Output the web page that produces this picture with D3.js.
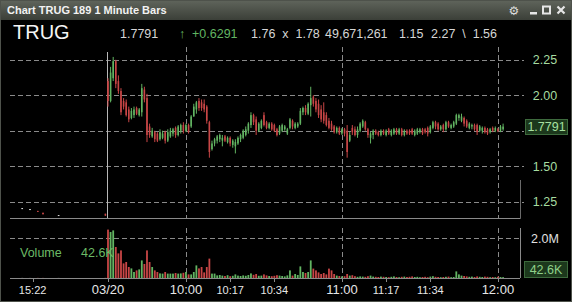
<!DOCTYPE html>
<html><head><meta charset="utf-8">
<script src="https://cdn.jsdelivr.net/npm/d3@7"></script>
<style>
html,body{margin:0;padding:0;background:#000;}
svg{display:block;font-family:"Liberation Sans",Arial,sans-serif;}
</style></head>
<body><svg id="c" width="572" height="302"></svg>
<script>
// ---------- DATA ----------
const symbol = "TRUG";
const title = "Chart TRUG 189 1 Minute Bars";
const headerValues = ["1.7791", "↑", "+0.6291", "1.76  x  1.78", "49,671,261", "1.15", "2.27  \\  1.56"];
const lastPrice = 1.7791;
const lastVolumeLabel = "42.6K";
// bars are indexed by minute from 09:30 on 03/20 (slot 0)
const open = [
2.10,1.96,2.12,2.24,2.10,2.03,1.96,1.95,1.90,1.84,
1.86,1.91,1.86,1.88,2.04,1.98,1.78,1.71,1.74,1.73,
1.69,1.70,1.74,1.68,1.71,1.73,1.77,1.72,1.75,1.79,
1.75,1.79,1.78,1.85,1.90,1.96,1.95,1.94,1.92,1.81,
1.62,1.66,1.68,1.69,1.68,1.71,1.67,1.70,1.65,1.64,
1.66,1.69,1.70,1.72,1.75,1.79,1.86,1.83,1.75,1.77,
1.86,1.81,1.77,1.80,1.79,1.76,1.73,1.75,1.76,1.73,
1.77,1.82,1.77,1.78,1.80,1.88,1.91,1.87,1.93,1.99,
1.96,1.94,1.90,1.88,1.86,1.82,1.80,1.78,1.74,1.77,
1.73,1.76,1.75,1.68,1.77,1.76,1.72,1.75,1.78,1.81,
1.76,1.70,1.72,1.75,1.74,1.72,1.75,1.72,1.76,1.72,
1.73,1.76,1.73,1.76,1.72,1.75,1.75,1.76,1.72,1.73,
1.74,1.76,1.76,1.77,1.74,1.77,1.81,1.80,1.76,1.79,
1.76,1.81,1.77,1.78,1.80,1.84,1.82,1.84,1.82,1.77,
1.78,1.79,1.79,1.75,1.75,1.77,1.76,1.74,1.77,1.75,
1.76,1.75,1.76];
const high = [
2.12,2.20,2.27,2.25,2.14,2.05,1.98,1.97,1.92,1.91,
1.92,1.92,1.91,2.08,2.06,2.01,1.80,1.77,1.75,1.74,
1.76,1.75,1.75,1.76,1.77,1.77,1.78,1.79,1.80,1.81,
1.80,1.80,1.86,1.94,1.96,1.98,1.97,1.97,1.93,1.82,
1.68,1.70,1.72,1.73,1.72,1.72,1.71,1.71,1.69,1.69,
1.71,1.73,1.76,1.78,1.81,1.88,1.87,1.85,1.81,1.83,
1.88,1.82,1.81,1.81,1.80,1.77,1.79,1.80,1.79,1.77,
1.84,1.83,1.81,1.81,1.91,1.92,1.93,1.95,2.06,2.00,
1.98,1.97,1.93,1.95,1.88,1.84,1.82,1.79,1.78,1.78,
1.77,1.77,1.79,1.74,1.79,1.78,1.78,1.81,1.83,1.82,
1.77,1.74,1.76,1.76,1.75,1.76,1.76,1.76,1.77,1.76,
1.77,1.77,1.77,1.77,1.76,1.76,1.76,1.77,1.76,1.77,
1.77,1.77,1.77,1.78,1.79,1.82,1.82,1.81,1.79,1.80,
1.82,1.82,1.80,1.82,1.87,1.87,1.87,1.85,1.83,1.81,
1.80,1.80,1.80,1.79,1.78,1.78,1.77,1.77,1.78,1.78,
1.77,1.79,1.80];
const low = [
1.92,1.95,2.10,2.05,2.01,1.86,1.90,1.85,1.81,1.83,
1.84,1.86,1.85,1.85,1.95,1.67,1.70,1.70,1.67,1.67,
1.68,1.69,1.66,1.67,1.70,1.71,1.70,1.71,1.73,1.73,
1.74,1.73,1.77,1.85,1.87,1.89,1.89,1.88,1.80,1.56,
1.61,1.64,1.66,1.67,1.64,1.67,1.66,1.64,1.63,1.59,
1.65,1.67,1.69,1.71,1.73,1.77,1.79,1.72,1.74,1.76,
1.78,1.76,1.76,1.75,1.74,1.71,1.72,1.74,1.75,1.72,
1.76,1.76,1.76,1.77,1.79,1.86,1.86,1.86,1.85,1.92,
1.88,1.84,1.81,1.80,1.78,1.76,1.75,1.73,1.73,1.72,
1.72,1.71,1.56,1.67,1.72,1.71,1.70,1.74,1.77,1.75,
1.70,1.66,1.69,1.72,1.71,1.71,1.72,1.71,1.72,1.71,
1.72,1.72,1.72,1.71,1.71,1.72,1.72,1.72,1.71,1.72,
1.73,1.72,1.73,1.71,1.73,1.76,1.76,1.75,1.75,1.74,
1.75,1.77,1.76,1.77,1.79,1.82,1.81,1.78,1.77,1.76,
1.76,1.75,1.72,1.74,1.73,1.73,1.72,1.73,1.74,1.74,
1.74,1.74,1.75];
const close = [
1.96,2.16,2.24,2.08,2.03,1.88,1.92,1.86,1.83,1.89,
1.90,1.87,1.90,2.05,1.97,1.72,1.72,1.75,1.69,1.68,
1.74,1.73,1.68,1.74,1.75,1.76,1.72,1.78,1.79,1.75,
1.79,1.74,1.85,1.92,1.95,1.91,1.91,1.90,1.82,1.60,
1.66,1.69,1.71,1.72,1.70,1.68,1.70,1.66,1.68,1.67,
1.70,1.72,1.75,1.76,1.80,1.86,1.81,1.75,1.80,1.82,
1.79,1.77,1.80,1.76,1.75,1.72,1.78,1.79,1.78,1.76,
1.83,1.78,1.80,1.80,1.89,1.91,1.88,1.94,1.98,1.94,
1.90,1.86,1.83,1.82,1.79,1.77,1.76,1.74,1.77,1.73,
1.76,1.73,1.60,1.72,1.74,1.72,1.76,1.80,1.82,1.76,
1.72,1.73,1.75,1.73,1.72,1.75,1.73,1.75,1.73,1.75,
1.76,1.73,1.76,1.72,1.75,1.73,1.73,1.73,1.75,1.76,
1.76,1.73,1.74,1.73,1.78,1.81,1.78,1.76,1.78,1.76,
1.81,1.78,1.79,1.81,1.86,1.86,1.85,1.80,1.78,1.80,
1.79,1.76,1.74,1.78,1.77,1.74,1.73,1.76,1.75,1.77,
1.75,1.78,1.7791];
// volume in thousands
const volume = [
2420,2300,2380,1550,1230,1380,730,800,550,480,
300,380,430,880,700,1380,800,550,380,300,
230,220,300,220,220,220,250,220,230,260,
300,180,180,300,630,480,550,280,550,970,
220,220,130,150,120,100,140,90,110,180,
120,100,130,110,150,230,160,200,110,120,
180,130,100,90,110,140,120,100,80,130,
380,120,200,150,580,300,250,300,880,470,
380,280,200,250,180,470,380,200,120,100,
80,90,200,120,140,90,60,80,70,60,
90,120,70,60,50,70,60,50,40,60,
80,50,40,60,70,50,60,80,50,60,
40,50,60,40,70,90,60,50,40,50,
60,70,40,50,330,180,120,100,80,60,
70,50,80,60,50,70,60,40,50,40,
60,50,42.6];
// previous session (03/19) sparse late-day prints
const prevSlots = [-33, -30, -27, -25, -19, -1];
const prevOpen  = [1.205, 1.198, 1.185, 1.172, 1.156, 1.165];
const prevHigh  = [1.205, 1.198, 1.185, 1.172, 1.156, 1.165];
const prevLow   = [1.205, 1.198, 1.178, 1.160, 1.156, 1.150];
const prevClose = [1.205, 1.198, 1.178, 1.162, 1.156, 1.152];
const prevVolume = [4, 3, 6, 5, 3, 8];
// axis
const priceTicks = [1.25, 1.50, 1.75, 2.00, 2.25];
const volumeTicks = [2000];
const volumeTickLabels = ["2.0M"];
const timeTickSlots = [-29, 0, 30, 47, 64, 90, 107, 124, 150];
const timeTickLabels = ["15:22", "03/20", "10:00", "10:17", "10:34", "11:00", "11:17", "11:34", "12:00"];
const timeTickMajor = [false, true, true, false, false, true, false, false, true];
const hourGridSlots = [30, 90, 150];
const sessionStartSlot = 0;

// ---------- DRAW ----------
const svg = d3.select("#c");
const UP = "#62b462", DOWN = "#c84646", NEUTRAL = "#d8d8d8";
const GRID = "#8a8a8a";

const x = d3.scaleLinear().domain([-37.7, 158.5]).range([10, 520]);
const y = d3.scaleLinear().domain([1.135, 2.34]).range([218, 47]);
const yv = d3.scaleLinear().domain([0, 2000]).range([278, 238]);

svg.append("rect").attr("width", 572).attr("height", 302).attr("fill", "#000");

// title bar
const defs = svg.append("defs");
const g1 = defs.append("linearGradient").attr("id", "tb").attr("x1", 0).attr("y1", 0).attr("x2", 0).attr("y2", 1);
g1.append("stop").attr("offset", "0%").attr("stop-color", "#60655c");
g1.append("stop").attr("offset", "100%").attr("stop-color", "#3b3f38");
svg.append("rect").attr("x", 0).attr("y", 0).attr("width", 572).attr("height", 20).attr("fill", "url(#tb)");
svg.append("line").attr("x1", 0).attr("x2", 572).attr("y1", 0.5).attr("y2", 0.5).attr("stroke", "#7a7f76");
svg.append("text").attr("x", 7).attr("y", 14).attr("fill", "#f2f2f2")
  .attr("font-size", 11).attr("font-weight", "bold").text(title);
// window icons
svg.append("text").attr("x", 514).attr("y", 15).attr("text-anchor", "middle").attr("fill", "#dcdcdc")
  .attr("font-size", 12).attr("font-family", "DejaVu Sans").text("⚙");
svg.append("rect").attr("x", 530).attr("y", 12).attr("width", 7).attr("height", 2.5).attr("fill", "#e6e6e6");
svg.append("rect").attr("x", 543).attr("y", 6.5).attr("width", 7).attr("height", 7).attr("fill", "none")
  .attr("stroke", "#e6e6e6").attr("stroke-width", 2);
svg.append("path").attr("d", "M557.5,6.5 L564.5,13.5 M564.5,6.5 L557.5,13.5").attr("stroke", "#e6e6e6").attr("stroke-width", 2.2);

// header
svg.append("text").attr("x", 13).attr("y", 39).attr("fill", "#f4f4f4").attr("font-size", 20).text(symbol);
const hx = [120, 179, 192, 251, 325, 399, 431];
const hcol = ["#d6d6d6", UP, UP, "#d6d6d6", "#d6d6d6", "#d6d6d6", "#d6d6d6"];
svg.append("g").selectAll("text").data(headerValues).join("text")
  .attr("x", (d, i) => hx[i]).attr("y", 38).attr("fill", (d, i) => hcol[i])
  .attr("font-size", 12.5).attr("xml:space", "preserve").style("white-space", "pre").text(d => d);

// window frame
svg.append("rect").attr("x", 0.5).attr("y", 0.5).attr("width", 571).attr("height", 301)
  .attr("fill", "none").attr("stroke", "#4e524b");

// price grid
const grid = svg.append("g").attr("stroke", GRID).attr("stroke-dasharray", "5,3").attr("stroke-width", 1);
grid.selectAll(".h").data(priceTicks).join("line")
  .attr("x1", 10).attr("x2", 524).attr("y1", d => Math.round(y(d)) + 0.5).attr("y2", d => Math.round(y(d)) + 0.5);
grid.selectAll(".v").data(hourGridSlots).join("line")
  .attr("x1", d => Math.round(x(d)) + 0.5).attr("x2", d => Math.round(x(d)) + 0.5).attr("y1", 47).attr("y2", 218);
// volume grid
grid.selectAll(".hv").data(volumeTicks).join("line")
  .attr("x1", 10).attr("x2", 520).attr("y1", d => Math.round(yv(d)) + 0.5).attr("y2", d => Math.round(yv(d)) + 0.5);
grid.selectAll(".vv").data(hourGridSlots).join("line")
  .attr("x1", d => Math.round(x(d)) + 0.5).attr("x2", d => Math.round(x(d)) + 0.5).attr("y1", 228).attr("y2", 278);

// session separator
svg.append("line").attr("x1", Math.round(x(sessionStartSlot)) - 0.5).attr("x2", Math.round(x(sessionStartSlot)) - 0.5)
  .attr("y1", 52).attr("y2", 218).attr("stroke", "#b8b8b8").attr("stroke-width", 1);

// panel frames
svg.append("line").attr("x1", 10).attr("x2", 520.5).attr("y1", 218.5).attr("y2", 218.5).attr("stroke", "#8a8a8a");
svg.append("line").attr("x1", 520.5).attr("x2", 520.5).attr("y1", 180).attr("y2", 218.5).attr("stroke", "#6a6a6a");
svg.append("line").attr("x1", 520.5).attr("x2", 520.5).attr("y1", 228).attr("y2", 278).attr("stroke", "#8a8a8a");

// bars
const bars = open.map((o, i) => ({slot: i, o, h: high[i], l: low[i], c: close[i], v: volume[i]}));
const prev = prevSlots.map((s, i) => ({slot: s, o: prevOpen[i], h: prevHigh[i], l: prevLow[i], c: prevClose[i], v: prevVolume[i]}));
const all = prev.concat(bars);
const col = d => d.c > d.o ? UP : (d.c < d.o ? DOWN : NEUTRAL);

const pg = svg.append("g");
pg.selectAll("line").data(all).join("line")
  .attr("x1", d => x(d.slot)).attr("x2", d => x(d.slot))
  .attr("y1", d => y(d.h)).attr("y2", d => Math.max(y(d.l), y(d.h) + 1))
  .attr("stroke", col).attr("stroke-width", 1);
pg.selectAll("rect").data(all).join("rect")
  .attr("x", d => x(d.slot) - 0.8).attr("width", 1.6)
  .attr("y", d => y(Math.max(d.o, d.c))).attr("height", d => Math.max(1, Math.abs(y(d.o) - y(d.c))))
  .attr("fill", col);

// volume bars
svg.append("g").selectAll("rect").data(all).join("rect")
  .attr("x", d => x(d.slot) - 0.9).attr("width", 1.8)
  .attr("y", d => yv(d.v)).attr("height", d => yv(0) - yv(d.v))
  .attr("fill", col);

// time axis
svg.append("line").attr("x1", 10).attr("x2", 520).attr("y1", 278.5).attr("y2", 278.5).attr("stroke", "#8a8a8a");
svg.append("g").selectAll("line").data(timeTickSlots).join("line")
  .attr("x1", d => Math.round(x(d)) + 0.5).attr("x2", d => Math.round(x(d)) + 0.5)
  .attr("y1", 278).attr("y2", 282).attr("stroke", "#8a8a8a");
svg.append("g").selectAll("text").data(timeTickSlots).join("text")
  .attr("x", d => x(d)).attr("y", 294).attr("text-anchor", "middle")
  .attr("fill", "#e6e6e6").attr("font-size", (d, i) => timeTickMajor[i] ? 13 : 11)
  .text((d, i) => timeTickLabels[i]);

// price axis labels (the last-price box hides any tick label it covers)
svg.append("g").selectAll("text").data(priceTicks.filter(d => Math.abs(y(d) - y(lastPrice)) > 12)).join("text")
  .attr("x", 545).attr("y", d => y(d) + 4.5).attr("text-anchor", "middle")
  .attr("fill", "#a6dca0").attr("font-size", 12.5).text(d => d.toFixed(2));
svg.append("rect").attr("x", 525.5).attr("y", 119.5).attr("width", 42).attr("height", 15)
  .attr("fill", "#1c381c").attr("stroke", "#3d6a3d");
svg.append("text").attr("x", 546.5).attr("y", y(lastPrice) + 4.5).attr("text-anchor", "middle")
  .attr("fill", "#a6e0a0").attr("font-size", 12.5).text(lastPrice.toFixed(4));

// volume axis labels
svg.append("g").selectAll("text").data(volumeTicks).join("text")
  .attr("x", 545).attr("y", d => yv(d) + 4.5).attr("text-anchor", "middle")
  .attr("fill", "#e0e0e0").attr("font-size", 12.5).text((d, i) => volumeTickLabels[i]);
svg.append("rect").attr("x", 524.5).attr("y", 261.5).attr("width", 43).attr("height", 16)
  .attr("fill", "#1c381c").attr("stroke", "#3d6a3d");
svg.append("text").attr("x", 546).attr("y", 274).attr("text-anchor", "middle")
  .attr("fill", "#8fd08a").attr("font-size", 12.5).text(lastVolumeLabel);

// volume legend
svg.append("text").attr("x", 20).attr("y", 257).attr("fill", "#6cbb66").attr("font-size", 12.5).text("Volume");
svg.append("text").attr("x", 81).attr("y", 257).attr("fill", "#6cbb66").attr("font-size", 12.5).text(lastVolumeLabel);
</script></body></html>
